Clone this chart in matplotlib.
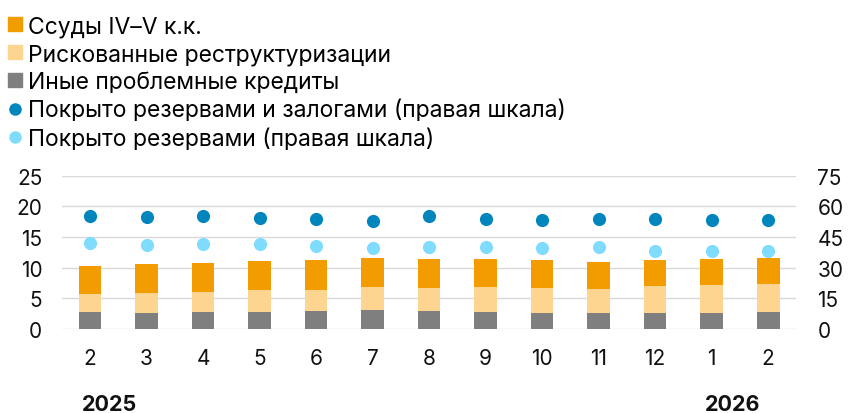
import matplotlib
matplotlib.use("Agg")
import matplotlib.pyplot as plt
from matplotlib.lines import Line2D
from matplotlib.patches import Patch
import matplotlib.transforms as mtransforms
import numpy as np

plt.rcParams['font.family'] = ['Inter', 'DejaVu Sans']

months = ['2', '3', '4', '5', '6', '7', '8', '9', '10', '11', '12', '1', '2']
years = ['2025', '2026']

other_bad = [2.72, 2.61, 2.78, 2.78, 2.89, 3.05, 2.89, 2.72, 2.61, 2.56, 2.56, 2.61, 2.72]
restructured = [2.94, 3.22, 3.27, 3.48, 3.43, 3.76, 3.75, 4.09, 4.09, 3.98, 4.36, 4.53, 4.52]
loans_4_5 = [4.58, 4.74, 4.68, 4.74, 4.90, 4.74, 4.74, 4.63, 4.52, 4.41, 4.30, 4.30, 4.36]
covered_all = [55.1, 54.6, 55.1, 54.4, 53.9, 52.8, 55.4, 53.8, 53.3, 53.8, 53.6, 53.1, 53.4]
covered_res = [42.0, 41.0, 41.5, 41.3, 40.8, 39.7, 40.2, 39.9, 39.5, 40.0, 38.2, 37.9, 37.9]

c_orange = '#F39C00'
c_light = '#FDD590'
c_grey = '#7F7F7F'
c_dark_blue = '#0086BD'
c_light_blue = '#80DCFF'

fig = plt.figure(figsize=(8.62, 4.14), dpi=100)
ax = fig.add_axes([0.0716, 0.2036, 0.8524, 0.3694])
ax2 = ax.twinx()

x = np.arange(len(months))
w = 0.4
b1 = np.array(other_bad)
b2 = b1 + np.array(restructured)
ax.bar(x, other_bad, w, color=c_grey, zorder=3)
ax.bar(x, restructured, w, bottom=b1, color=c_light, zorder=3)
ax.bar(x, loans_4_5, w, bottom=b2, color=c_orange, zorder=3)

ax2.scatter(x, covered_all, s=90, color=c_dark_blue, zorder=4, linewidths=0)
ax2.scatter(x, covered_res, s=90, color=c_light_blue, zorder=4, linewidths=0)

ax.set_xlim(-0.5, len(months) - 0.5)
ax.set_ylim(0, 25)
ax2.set_ylim(0, 75)
ax.set_yticks([0, 5, 10, 15, 20, 25])
ax2.set_yticks([0, 15, 30, 45, 60, 75])
ax.set_xticks(x)
ax.set_xticklabels(months)
ax.grid(axis='y', color='#D9D9D9', linewidth=1, zorder=0)
ax.set_axisbelow(True)
ax2.set_zorder(ax.get_zorder() + 1)
ax2.patch.set_visible(False)

for a in (ax, ax2):
    for s in a.spines.values():
        s.set_visible(False)
    a.tick_params(length=0, labelsize=15, colors='#111111')
ax.tick_params(axis='y', pad=14)
ax2.tick_params(axis='y', pad=15)
ax.tick_params(axis='x', pad=14)

trans = mtransforms.blended_transform_factory(ax.transData, fig.transFigure)
ax.text(0.35, 1 - 405 / 414, years[0], transform=trans, ha='center', va='center',
        fontsize=15.5, fontweight='bold', color='#111111')
ax.text(11.37, 1 - 405 / 414, years[1], transform=trans, ha='center', va='center',
        fontsize=15.5, fontweight='bold', color='#111111')

handles = [
    Patch(color=c_orange),
    Patch(color=c_light),
    Patch(color=c_grey),
    Line2D([], [], marker='o', linestyle='', color=c_dark_blue, markersize=8),
    Line2D([], [], marker='o', linestyle='', color=c_light_blue, markersize=8),
]
labels = ['Ссуды IV–V к.к.', 'Рискованные реструктуризации', 'Иные проблемные кредиты',
          'Покрыто резервами и залогами (правая шкала)', 'Покрыто резервами (правая шкала)']
fig.legend(handles, labels, loc='upper left', bbox_to_anchor=(-0.009, 1.0), frameon=False,
           fontsize=16.5, handlelength=0.6, handleheight=0.6, handletextpad=0.25,
           labelspacing=0.26, borderaxespad=0.3)

fig.savefig('out.png', dpi=100)
